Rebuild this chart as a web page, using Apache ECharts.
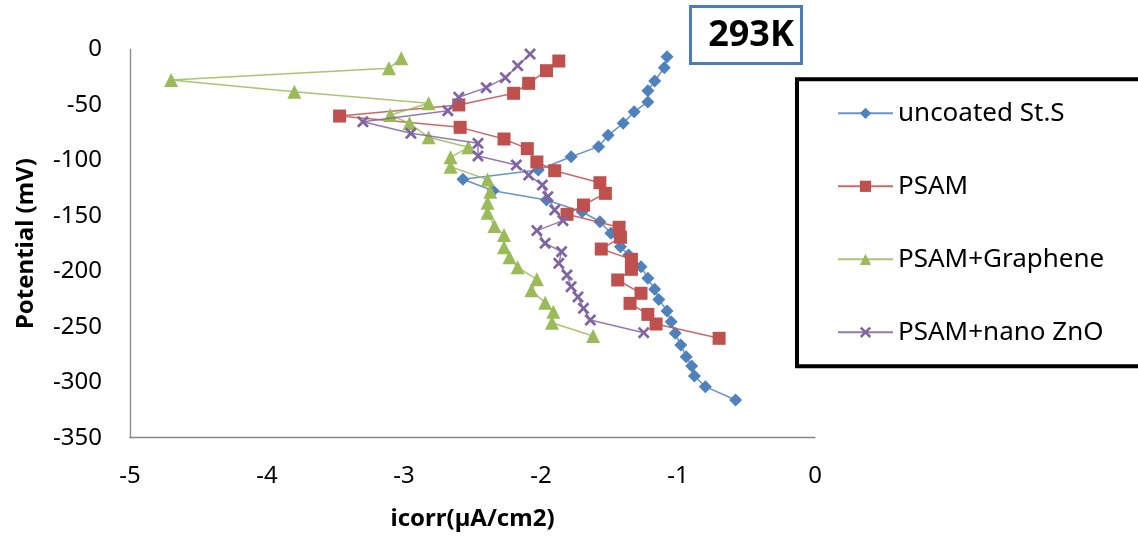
<!DOCTYPE html>
<html>
<head>
<meta charset="utf-8">
<script src="https://cdn.jsdelivr.net/npm/echarts@6/dist/echarts.min.js"></script>
<style>
  html, body { margin: 0; padding: 0; background: #fff; }
  #chart { width: 1138px; height: 537px; }
</style>
</head>
<body>
<div id="chart"></div>
<script>
// ---- data ----
const seriesNames = ['uncoated St.S', 'PSAM', 'PSAM+Graphene', 'PSAM+nano ZnO'];

const uncoatedX = [-1.08,-1.10,-1.17,-1.22,-1.22,-1.32,-1.40,-1.51,-1.58,-1.78,-2.02,-2.57,-2.35,-1.96,-1.70,-1.57,-1.49,-1.42,-1.36,-1.27,-1.22,-1.17,-1.14,-1.08,-1.05,-1.02,-0.98,-0.94,-0.90,-0.88,-0.80,-0.58];
const uncoatedY = [-6.5,-16.4,-28.3,-37.2,-47.3,-56.1,-66.6,-77.4,-87.6,-96.7,-108.7,-117,-127.3,-135.7,-146.3,-155.3,-165.7,-177.8,-185.3,-195.8,-206.3,-216.2,-225.3,-235.8,-245.4,-255.9,-266.5,-277,-285.4,-294.4,-304,-316];

const psamX = [-1.87,-1.96,-2.09,-2.20,-2.60,-3.47,-2.59,-2.27,-2.10,-2.03,-1.90,-1.57,-1.53,-1.69,-1.81,-1.43,-1.42,-1.56,-1.34,-1.34,-1.44,-1.27,-1.35,-1.22,-1.16,-0.70];
const psamY = [-10.4,-19.1,-30.5,-39.5,-50,-60,-70.2,-80.7,-89.4,-101.4,-109.3,-120.1,-129.7,-140.2,-148.6,-160.3,-169.3,-179.9,-189.2,-198.2,-207.8,-219.8,-228.9,-238.8,-247.5,-260.4];

const grapheneX = [-3.02,-3.11,-4.70,-3.80,-2.82,-3.10,-2.96,-2.82,-2.53,-2.66,-2.66,-2.39,-2.37,-2.39,-2.39,-2.34,-2.27,-2.27,-2.23,-2.17,-2.03,-2.07,-1.97,-1.91,-1.92,-1.62];
const grapheneY = [-8,-17,-27.5,-38,-48.5,-59.1,-66.6,-79.2,-88.2,-97.2,-105.7,-117.3,-128.2,-138.1,-147.1,-159.2,-167.3,-178.4,-187.4,-196.4,-207.2,-217,-228.3,-236.4,-246.3,-258.3];

const znoX = [-2.08,-2.17,-2.26,-2.40,-2.60,-2.68,-3.30,-2.95,-2.46,-2.46,-2.18,-2.09,-1.99,-1.95,-1.90,-1.84,-2.03,-1.97,-1.85,-1.87,-1.81,-1.78,-1.73,-1.69,-1.64,-1.25];
const znoY = [-4.1,-14.6,-25.4,-34.4,-43.1,-55.2,-65.1,-75.6,-84.6,-96,-104.1,-113.2,-122.2,-132.7,-144.7,-154.3,-163.3,-174.7,-182.3,-192.8,-203.3,-213.8,-223.1,-233.4,-243.9,-255.3];

const xTicks = { min: -5, max: 0, interval: 1 };
const yTicks = { min: -350, max: 0, interval: 50 };
const titleText = '293K';
const xAxisTitle = 'icorr(µA/cm2)';
const yAxisTitle = 'Potential (mV)';

// ---- build ----
function zip(xs, ys) { return xs.map((x, i) => [x, ys[i]]); }

const crossPath = 'path://M0,1.6 L1.6,0 L5,3.4 L8.4,0 L10,1.6 L6.6,5 L10,8.4 L8.4,10 L5,6.6 L1.6,10 L0,8.4 L3.4,5 Z';

const styles = [
  { color: '#4F81BD', symbol: 'diamond', size: 13 },
  { color: '#C0504D', symbol: 'rect', size: 13 },
  { color: '#9BBB59', symbol: 'triangle', size: 14 },
  { color: '#8064A2', symbol: crossPath, size: 12 }
];
const datasets = [zip(uncoatedX, uncoatedY), zip(psamX, psamY), zip(grapheneX, grapheneY), zip(znoX, znoY)];

const FONT = 'Noto Sans';

const chart = echarts.init(document.getElementById('chart'), null, { renderer: 'canvas' });
chart.setOption({
  animation: false,
  backgroundColor: '#fff',
  textStyle: { fontFamily: FONT },
  grid: { left: 130, right: 323, top: 49.5, bottom: 99.3, containLabel: false, outerBoundsMode: 'none' },
  xAxis: {
    type: 'value', min: xTicks.min, max: xTicks.max, interval: xTicks.interval,
    name: xAxisTitle, nameLocation: 'middle', nameGap: 69,
    nameTextStyle: { fontFamily: FONT, fontSize: 24, fontWeight: 'bold', color: '#000' },
    axisLine: { onZero: false, lineStyle: { color: '#868686', width: 1.3 } },
    axisTick: { show: false },
    splitLine: { show: false },
    axisLabel: { fontFamily: FONT, fontSize: 24, color: '#000', margin: 26 }
  },
  yAxis: {
    type: 'value', min: yTicks.min, max: yTicks.max, interval: yTicks.interval,
    name: yAxisTitle, nameLocation: 'middle', nameGap: 92, nameRotate: 90,
    nameTextStyle: { fontFamily: FONT, fontSize: 24, fontWeight: 'bold', color: '#000' },
    axisLine: { show: true, onZero: false, lineStyle: { color: '#868686', width: 1.3 } },
    axisTick: { show: false },
    splitLine: { show: false },
    axisLabel: { fontFamily: FONT, fontSize: 24, color: '#000', margin: 28 }
  },
  legend: {
    orient: 'vertical', left: 797, top: 79.3,
    itemWidth: 55, itemHeight: 14, itemGap: 47,
    padding: [21, 300, 21, 40],
    borderColor: '#000', borderWidth: 4,
    textStyle: { fontFamily: FONT, fontSize: 26, color: '#000' },
    data: seriesNames
  },
  graphic: [
    { type: 'rect', shape: { x: 690.5, y: 6.5, width: 111, height: 57 },
      style: { fill: '#fff', stroke: '#4A7EBB', lineWidth: 3 } },
    { type: 'text', x: 751, y: 36,
      style: { text: titleText, fill: '#000', font: 'bold 36px "Noto Sans"', textAlign: 'center', textVerticalAlign: 'middle' } }
  ],
  series: datasets.map((d, i) => ({
    name: seriesNames[i],
    type: 'line',
    data: d,
    symbol: styles[i].symbol,
    symbolSize: styles[i].size,
    showAllSymbol: true,
    itemStyle: { color: styles[i].color },
    lineStyle: { color: styles[i].color, width: 1.5, opacity: 0.85 },
    z: 2 + i
  }))
});
</script>
</body>
</html>
